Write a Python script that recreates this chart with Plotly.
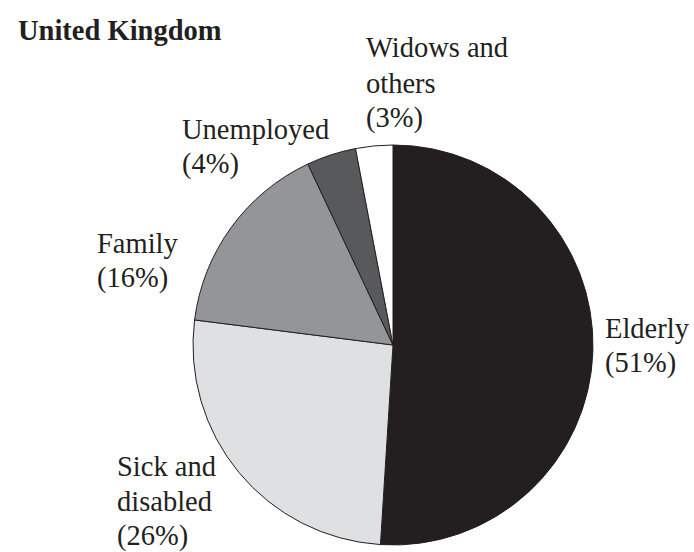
import plotly.graph_objects as go

# Social benefit expenditure by function, United Kingdom
categories = ["Elderly", "Sick and disabled", "Family", "Unemployed", "Widows and others"]
shares = [51, 26, 16, 4, 3]
label_lines = [["Elderly"], ["Sick and", "disabled"], ["Family"], ["Unemployed"], ["Widows and", "others"]]
colors = ["#231f20", "#dfe0e1", "#939598", "#58595b", "#ffffff"]

W, H = 694, 552
FONT = "Liberation Serif, Times New Roman, serif"
LINE_GAP = 35  # px between label lines

fig = go.Figure()
fig.add_trace(go.Pie(
    labels=categories,
    values=shares,
    sort=False,
    direction="clockwise",
    rotation=0,
    textinfo="none",
    hoverinfo="label+percent",
    marker=dict(colors=colors, line=dict(color="#231f20", width=1)),
    domain=dict(x=[193 / W, 593 / W], y=[1 - 545 / H, 1 - 145 / H]),
    showlegend=False,
))

# label anchors: left edge x, centre of first line y (pixels)
label_pos = [(603, 328), (115, 466), (95, 243), (180, 129), (364, 48)]

for lines, val, (px, py) in zip(label_lines, shares, label_pos):
    for i, line in enumerate(lines + [f"({val}%)"]):
        fig.add_annotation(
            x=px / W, y=1 - (py + i * LINE_GAP) / H, xref="paper", yref="paper",
            xanchor="left", yanchor="middle", align="left",
            text=line, showarrow=False,
            font=dict(family=FONT, size=28.5, color="#231f20"),
        )

fig.add_annotation(
    x=16 / W, y=1 - 30 / H, xref="paper", yref="paper",
    xanchor="left", yanchor="middle",
    text="<b>United Kingdom</b>", showarrow=False,
    font=dict(family=FONT, size=28.5, color="#231f20"),
)

fig.update_layout(
    width=W, height=H,
    margin=dict(l=0, r=0, t=0, b=0),
    paper_bgcolor="white", plot_bgcolor="white",
)

fig.write_html("out.html")
